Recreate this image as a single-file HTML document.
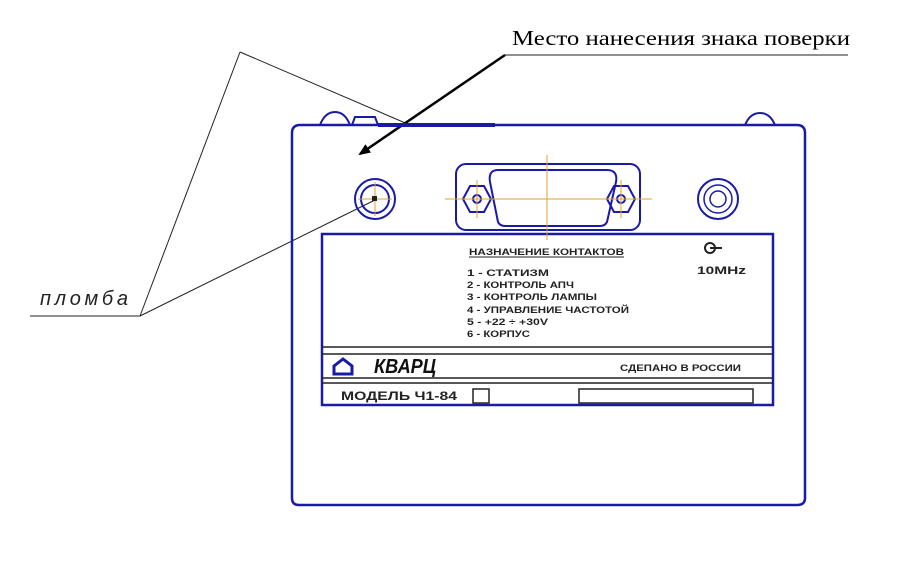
<!DOCTYPE html>
<html><head><meta charset="utf-8"><style>
body{margin:0;background:#fff;}
svg{display:block}
.t{font-family:"Liberation Sans",sans-serif;font-weight:bold;fill:#222;}
</style></head><body>
<svg width="911" height="561" viewBox="0 0 911 561">
<defs><marker id="a" markerWidth="12" markerHeight="10" refX="10" refY="5" orient="auto" markerUnits="userSpaceOnUse"><path d="M0,0 L12,5 L0,10 z" fill="#000"/></marker></defs>
<g stroke="#222" stroke-width="1" fill="none">
<line x1="240" y1="52" x2="140" y2="316"/>
<line x1="240" y1="52" x2="410" y2="125"/>
<line x1="30" y1="316" x2="140" y2="316"/>
<line x1="140" y1="316" x2="375" y2="200"/>
<line x1="505" y1="55" x2="848" y2="55"/>
</g>
<line x1="505" y1="55" x2="360" y2="154" stroke="#000" stroke-width="2.5" marker-end="url(#a)"/>
<text x="512" y="45" font-family="Liberation Serif,serif" font-size="21" fill="#000" textLength="338" lengthAdjust="spacingAndGlyphs">Место нанесения знака поверки</text>
<text x="40" y="305" font-family="Liberation Sans,sans-serif" font-style="italic" font-size="20" fill="#222" textLength="88">пломба</text>
<g stroke="#1a1aa8" fill="none" stroke-width="2.5">
<path d="M300,125 L797,125 Q805,125 805,133 L805,498 Q805,505 797,505 L299,505 Q292,505 292,498 L292,133 Q292,125 300,125 Z"/>
<path d="M320,125 Q325,112 335,112 Q345,112 350,125" stroke-width="2"/>
<path d="M352,125 L355,117 L375,117 L378,125" stroke-width="2"/>
<line x1="378" y1="125" x2="495" y2="125" stroke-width="4"/>
<path d="M745,125 Q750,113 760,113 Q770,113 775,125" stroke-width="2"/>
<circle cx="375" cy="199" r="20" stroke-width="2"/>
<circle cx="375" cy="199" r="14" stroke-width="2"/>
<circle cx="718" cy="199" r="20" stroke-width="2"/>
<circle cx="718" cy="199" r="14" stroke-width="1.5"/>
<circle cx="718" cy="199" r="8" stroke-width="1.5"/>
<rect x="456" y="164" width="184" height="66" rx="10" stroke-width="2"/>
<path d="M498,170 L607,170 Q618,170 616,182 L607,222 Q605,226 600,226 L505,226 Q500,226 498,222 L490,182 Q488,170 498,170 Z" stroke-width="2"/>
<polygon points="463,199 470,186 484,186 491,199 484,212 470,212" stroke-width="2"/>
<polygon points="607,199 614,186 628,186 635,199 628,212 614,212" stroke-width="2"/>
<circle cx="477" cy="199" r="4" stroke-width="2"/>
<circle cx="621" cy="199" r="4" stroke-width="2"/>
<rect x="322" y="234" width="451" height="171" stroke-width="2.5"/>
<line x1="322" y1="347" x2="773" y2="347" stroke-width="1.5" stroke="#222"/>
<line x1="322" y1="354" x2="773" y2="354" stroke-width="1.5" stroke="#222"/>
<line x1="322" y1="378" x2="773" y2="378" stroke-width="1.5" stroke="#222"/>
<line x1="322" y1="383" x2="773" y2="383" stroke-width="1.5" stroke="#222"/>
</g>
<g stroke="#e0a030" stroke-width="1">
<line x1="445" y1="199" x2="652" y2="199"/>
<line x1="547" y1="155" x2="547" y2="240"/>
<line x1="477" y1="180" x2="477" y2="218"/>
<line x1="621" y1="180" x2="621" y2="218"/>
<line x1="358" y1="199" x2="392" y2="199"/>
<line x1="375" y1="182" x2="375" y2="216"/>
</g>
<rect x="372" y="196" width="5" height="5" fill="#222"/>
<rect x="473" y="389" width="16" height="14" fill="none" stroke="#222" stroke-width="1.5"/>
<rect x="579" y="389" width="174" height="14" fill="none" stroke="#222" stroke-width="1.5"/>
<text class="t" x="469" y="255" font-size="9" textLength="155" lengthAdjust="spacingAndGlyphs">НАЗНАЧЕНИЕ КОНТАКТОВ</text>
<line x1="469" y1="257" x2="624" y2="257" stroke="#222" stroke-width="1"/>
<g class="t" font-size="9">
<text x="467" y="276" textLength="82" lengthAdjust="spacingAndGlyphs">1 - СТАТИЗМ</text>
<text x="467" y="288" textLength="107" lengthAdjust="spacingAndGlyphs">2 - КОНТРОЛЬ АПЧ</text>
<text x="467" y="300" textLength="130" lengthAdjust="spacingAndGlyphs">3 - КОНТРОЛЬ ЛАМПЫ</text>
<text x="467" y="313" textLength="162" lengthAdjust="spacingAndGlyphs">4 - УПРАВЛЕНИЕ ЧАСТОТОЙ</text>
<text x="467" y="325" textLength="81" lengthAdjust="spacingAndGlyphs">5 - +22 ÷ +30V</text>
<text x="467" y="337" textLength="63" lengthAdjust="spacingAndGlyphs">6 - КОРПУС</text>
</g>
<text class="t" x="697" y="274" font-size="11" textLength="49" lengthAdjust="spacingAndGlyphs">10MHz</text>
<circle cx="710" cy="248" r="5" fill="none" stroke="#222" stroke-width="2"/>
<line x1="710" y1="248" x2="722" y2="248" stroke="#222" stroke-width="2"/>
<text class="t" x="620" y="371" font-size="9" textLength="121" lengthAdjust="spacingAndGlyphs">СДЕПАНО В РОССИИ</text>
<text class="t" x="341" y="400" font-size="12" textLength="116" lengthAdjust="spacingAndGlyphs">МОДЕЛЬ  Ч1-84</text>
<path d="M334,366 L343,359 L352,366 L352,374 L334,374 Z" fill="none" stroke="#1a1aa8" stroke-width="3"/>
<text x="374" y="373" font-family="Liberation Sans,sans-serif" font-weight="bold" font-style="italic" font-size="20" fill="#111" textLength="62" lengthAdjust="spacingAndGlyphs">КВАРЦ</text>
</svg>
</body></html>
